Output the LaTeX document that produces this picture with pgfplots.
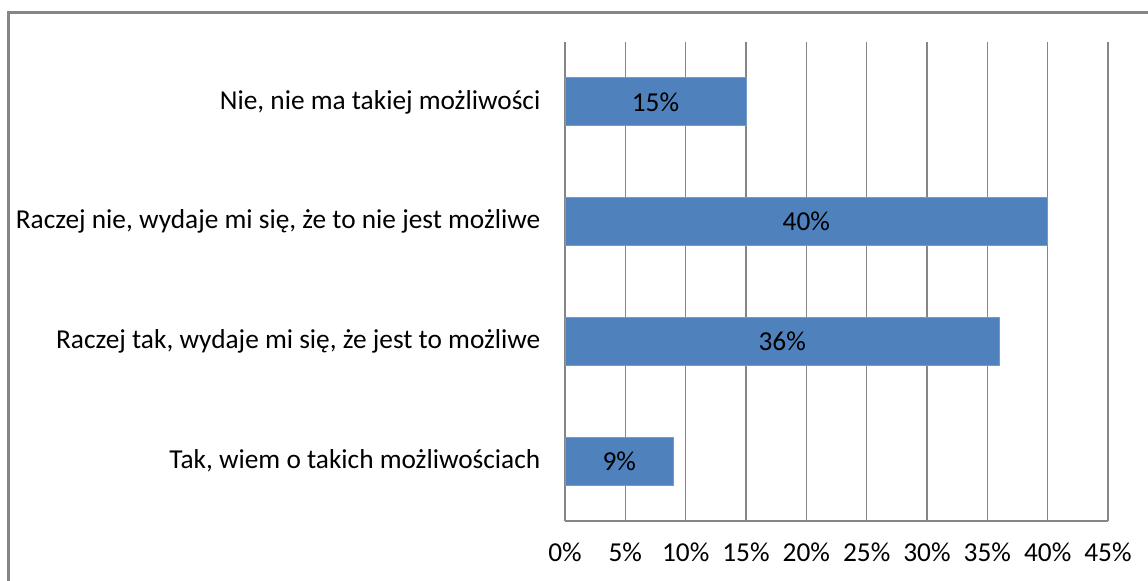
\documentclass[border=0pt]{standalone}
\usepackage{fontspec}
\setmainfont{Carlito}
\usepackage{pgfplots}
\pgfplotsset{compat=1.18}
\definecolor{barblue}{RGB}{79,129,189}
\definecolor{gridgray}{RGB}{134,134,134}

\begin{document}
\begin{tikzpicture}[x=0.75pt,y=0.75pt]
% canvas of the reference, frame runs off the right and bottom edges
\path[use as bounding box] (0,0) rectangle (1148,581);
\begin{scope}
\clip (0,0) rectangle (1148,581);
\draw[gridgray, line width=1.6pt] (8.5,-10) -- (8.5,568.5) -- (1160,568.5);
\end{scope}
\begin{axis}[
  at={(423.75pt,45pt)}, anchor=south west,
  scale only axis,
  width=407.25pt, height=359.25pt,
  xbar,
  bar width=36pt,
  xmin=0, xmax=45,
  ymin=-0.5, ymax=3.5,
  axis x line=bottom, axis y line=left,
  axis line style={draw=gridgray, line width=1pt, -},
  xmajorgrids=true,
  major grid style={draw=gridgray, line width=1pt},
  xtick={0,5,...,45},
  xticklabel={\pgfmathprintnumber{\tick}\%},
  xticklabel style={yshift=-13pt},
  ytick={0,1,2,3},
  yticklabels={{Tak, wiem o takich możliwościach},
    {Raczej tak, wydaje mi się, że jest to możliwe},
    {Raczej nie, wydaje mi się, że to nie jest możliwe},
    {Nie, nie ma takiej możliwości}},
  yticklabel style={xshift=-15pt},
  major tick length=0pt,
  tick label style={font=\fontsize{20.5}{24}\selectfont},
  /pgf/number format/assume math mode=true,
  point meta=x,
  nodes near coords={\pgfmathprintnumber{\pgfplotspointmeta}\%},
  visualization depends on={x/2 \as \halfx},
  nodes near coords style={font=\fontsize{20.5}{24}\selectfont, anchor=center,
    shift={(axis direction cs:-\halfx,0)}},
]
\addplot[fill=barblue, draw=barblue!80!white, line width=0.6pt]
  coordinates {
    (9,0)
    (36,1)
    (40,2)
    (15,3)
  };
\end{axis}
\end{tikzpicture}
\end{document}
